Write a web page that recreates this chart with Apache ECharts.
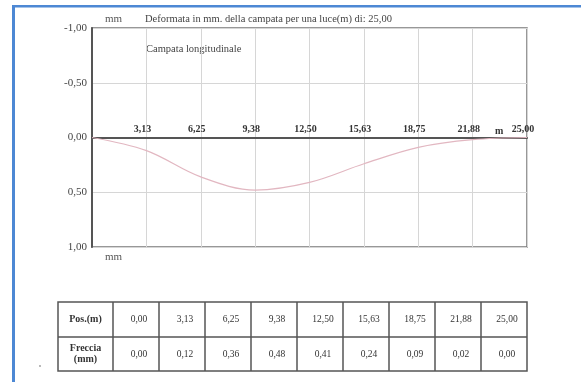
<!DOCTYPE html>
<html>
<head>
<meta charset="utf-8">
<script src="https://cdn.jsdelivr.net/npm/echarts@6/dist/echarts.min.js"></script>
<style>
  html, body { margin: 0; padding: 0; background: #fff; }
  #chart { width: 581px; height: 382px; }
</style>
</head>
<body>
<div id="chart"></div>
<script>
// Positions along the span (m) and the computed deflection (mm)
const posM = [0, 3.13, 6.25, 9.38, 12.5, 15.63, 18.75, 21.88, 25];
const frecciaMm = [0, 0.12, 0.36, 0.48, 0.41, 0.24, 0.09, 0.02, 0];

const titleText = 'Deformata in mm. della campata per una luce(m) di: 25,00';
const subtitleText = 'Campata longitudinale';
const rowHeaders = ['Pos.(m)', 'Freccia\n(mm)'];

const fmt = v => v.toFixed(2).replace('.', ',');
const serif = '"Liberation Serif", "DejaVu Serif", serif';

const grid = { left: 92, top: 28, width: 435, height: 219 };
// the zero line sits halfway down the inverted -1..1 axis
const zeroOffset = -grid.height / 2;

// Table below the plot: first column holds the row headers
const table = { x0: 58, x1: 113, colW: 46, rows: [302, 337, 371] };

function buildTable() {
  const els = [];
  const xEnd = table.x1 + table.colW * posM.length;
  const yTop = table.rows[0], yMid = table.rows[1], yBot = table.rows[2];
  const lineStyle = { stroke: '#555', lineWidth: 1.5 };
  els.push({ type: 'rect', shape: { x: table.x0, y: yTop, width: xEnd - table.x0, height: yBot - yTop },
             style: { fill: 'none', stroke: '#555', lineWidth: 1.5 } });
  els.push({ type: 'line', shape: { x1: table.x0, y1: yMid, x2: xEnd, y2: yMid }, style: lineStyle });
  for (let i = 0; i < posM.length; i++) {
    const x = table.x1 + table.colW * i;
    els.push({ type: 'line', shape: { x1: x, y1: yTop, x2: x, y2: yBot }, style: lineStyle });
  }
  const hx = (table.x0 + table.x1) / 2;
  els.push({ type: 'text', x: hx, y: (yTop + yMid) / 2,
             style: { text: rowHeaders[0], font: 'bold 10px ' + serif, fill: '#333', align: 'center', verticalAlign: 'middle' } });
  els.push({ type: 'text', x: hx, y: (yMid + yBot) / 2,
             style: { text: rowHeaders[1], font: 'bold 10px ' + serif, fill: '#333', align: 'center', verticalAlign: 'middle', lineHeight: 11 } });
  posM.forEach((p, i) => {
    const cx = table.x1 + table.colW * i + table.colW / 2 + 3;
    els.push({ type: 'text', x: cx, y: (yTop + yMid) / 2,
               style: { text: fmt(p), font: '9.5px ' + serif, fill: '#333', align: 'center', verticalAlign: 'middle' } });
    els.push({ type: 'text', x: cx, y: (yMid + yBot) / 2,
               style: { text: fmt(frecciaMm[i]), font: '9.5px ' + serif, fill: '#333', align: 'center', verticalAlign: 'middle' } });
  });
  return els;
}

const chart = echarts.init(document.getElementById('chart'), null, { renderer: 'canvas' });

chart.setOption({
  animation: false,
  backgroundColor: '#fff',
  grid: Object.assign({ show: true, borderColor: '#777', borderWidth: 1.5, backgroundColor: 'transparent' }, grid),
  xAxis: {
    type: 'value',
    min: 0,
    max: 25,
    interval: 3.125,
    position: 'top',
    offset: zeroOffset,
    axisLine: { onZero: false, lineStyle: { color: '#555', width: 2 } },
    axisTick: { show: false },
    axisLabel: {
      showMinLabel: false,
      formatter: v => fmt(v),
      fontFamily: serif,
      fontSize: 10,
      fontWeight: 'bold',
      color: '#333',
      margin: 3,
      padding: [0, 8, 0, 0]
    },
    splitLine: { show: true, lineStyle: { color: '#d6d6d6', width: 1 } }
  },
  yAxis: {
    type: 'value',
    inverse: true,
    min: -1,
    max: 1,
    interval: 0.5,
    axisLine: { show: true, onZero: false, lineStyle: { color: '#555', width: 2 } },
    axisTick: { show: false },
    axisLabel: { formatter: v => fmt(v), fontFamily: serif, fontSize: 11, color: '#444', margin: 5 },
    splitLine: { show: true, lineStyle: { color: '#d6d6d6', width: 1 } }
  },
  series: [{
    type: 'line',
    data: posM.map((p, i) => [p, frecciaMm[i]]),
    smooth: 0.35,
    showSymbol: false,
    lineStyle: { color: '#e2b7c1', width: 1.2 },
    z: 3
  }],
  graphic: [
    // page frame
    { type: 'rect', shape: { x: 12, y: 5, width: 569, height: 2.5 }, style: { fill: '#4d88d4' } },
    { type: 'rect', shape: { x: 12, y: 5, width: 3, height: 377 }, style: { fill: '#4d88d4' } },
    // headings
    { type: 'text', x: 105, y: 19, style: { text: 'mm', font: '11px ' + serif, fill: '#555', verticalAlign: 'middle' } },
    { type: 'text', x: 145, y: 19, style: { text: titleText, font: '10.5px ' + serif, fill: '#444', verticalAlign: 'middle' } },
    { type: 'text', x: 146, y: 49, style: { text: subtitleText, font: '10.5px ' + serif, fill: '#444', verticalAlign: 'middle' } },
    { type: 'text', x: 495, y: 131, style: { text: 'm', font: 'bold 10px ' + serif, fill: '#333', verticalAlign: 'middle' } },
    { type: 'text', x: 105, y: 257, style: { text: 'mm', font: '11px ' + serif, fill: '#555', verticalAlign: 'middle' } },
    { type: 'circle', shape: { cx: 40, cy: 366, r: 0.9 }, style: { fill: '#999' } }
  ].concat(buildTable())
});
</script>
</body>
</html>
